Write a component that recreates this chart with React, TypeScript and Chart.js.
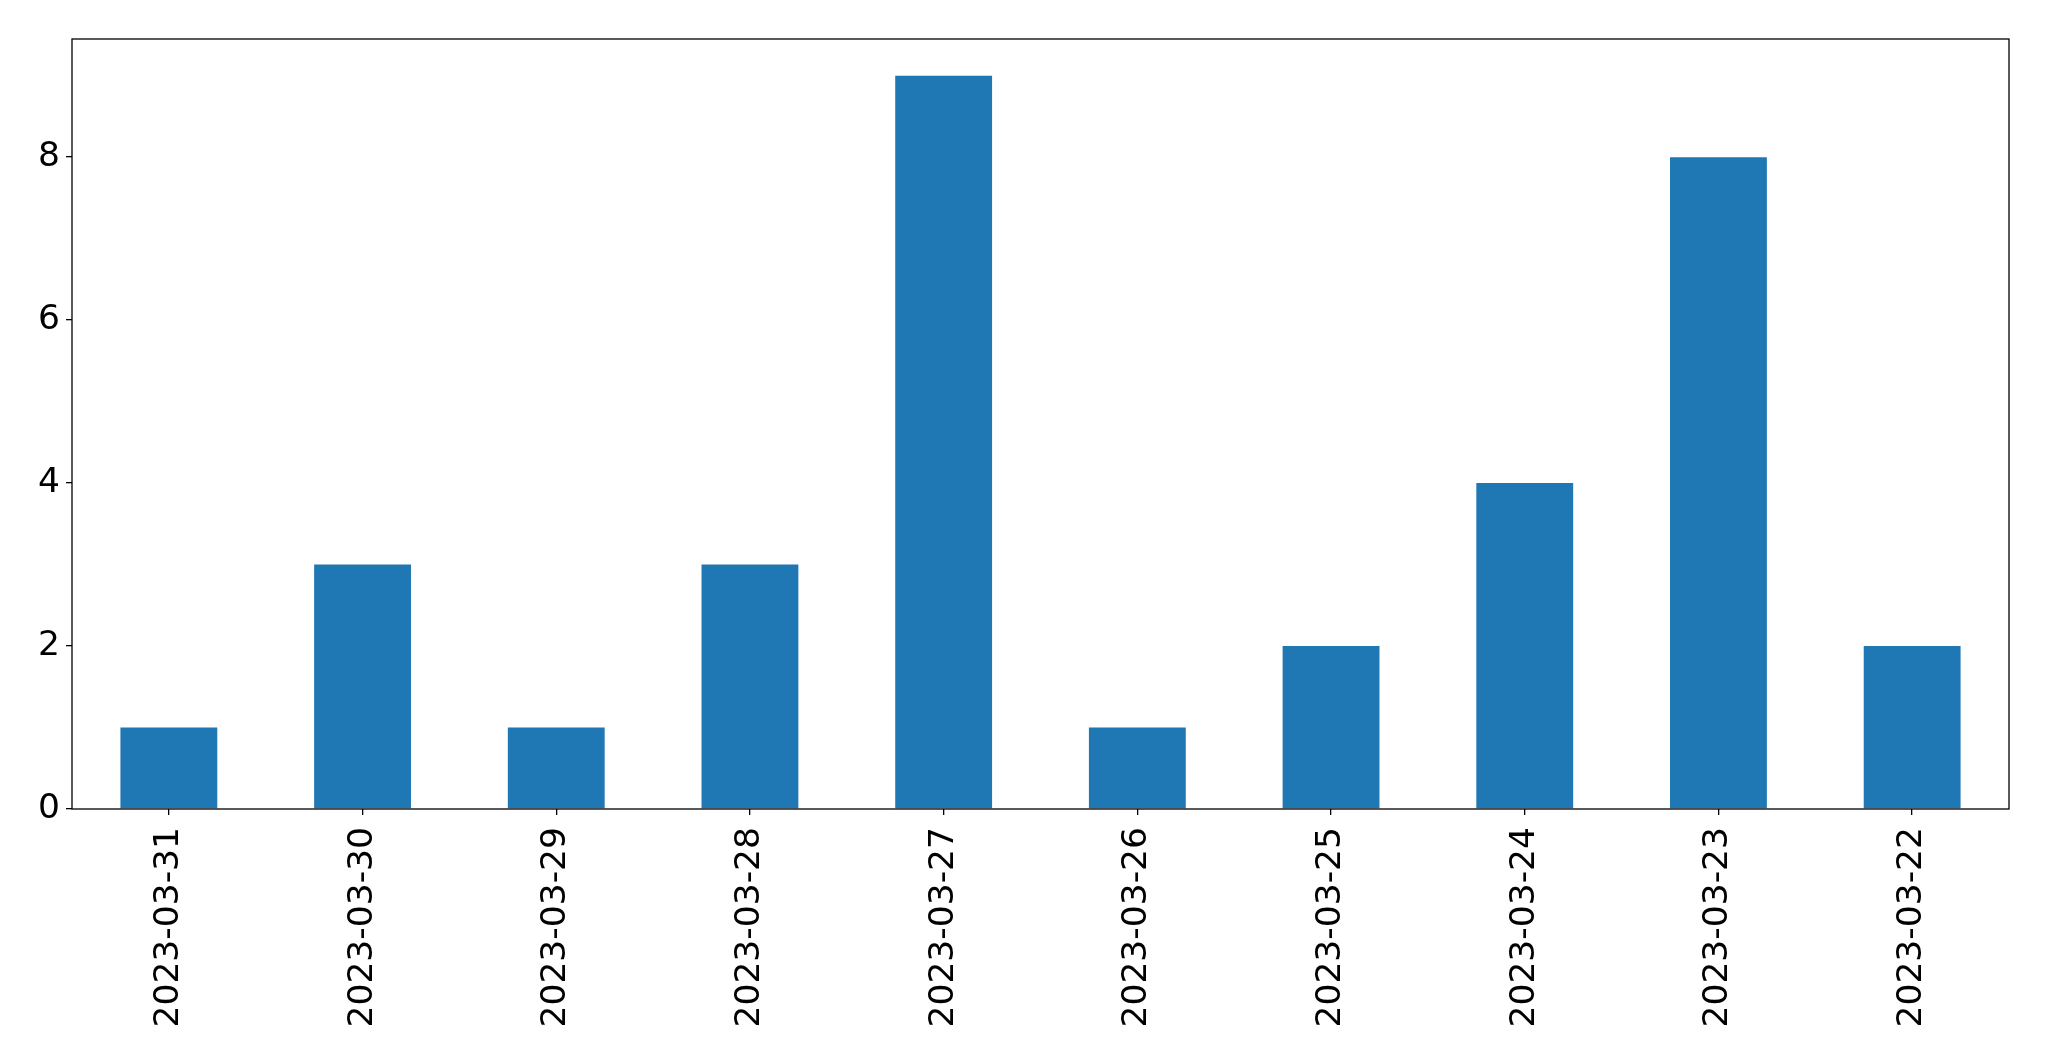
import React, { useEffect, useRef } from "react";
import { Chart, registerables } from "chart.js";

Chart.register(...registerables);

const categories = [
  "2023-03-31",
  "2023-03-30",
  "2023-03-29",
  "2023-03-28",
  "2023-03-27",
  "2023-03-26",
  "2023-03-25",
  "2023-03-24",
  "2023-03-23",
  "2023-03-22",
];
const counts = [1, 3, 1, 3, 9, 1, 2, 4, 8, 2];
const yTicks = [0, 2, 4, 6, 8];

const W = 2049;
const H = 1061;
const FONT = "'DejaVu Sans', sans-serif";

const framePlugin = {
  id: "frame",
  afterDraw(chart: any) {
    const { ctx, chartArea } = chart;
    ctx.save();
    ctx.strokeStyle = "#000";
    ctx.lineWidth = 1.3;
    ctx.strokeRect(chartArea.left, chartArea.top, chartArea.right - chartArea.left, chartArea.bottom - chartArea.top);
    ctx.restore();
  },
};

export default function App() {
  const ref = useRef<HTMLCanvasElement | null>(null);
  useEffect(() => {
    document.body.style.margin = "0";
    const canvas = ref.current!;
    const chart = new Chart(canvas, {
      type: "bar",
      data: {
        labels: categories,
        datasets: [
          {
            data: counts,
            backgroundColor: "#1f77b4",
            borderWidth: 0,
            categoryPercentage: 1,
            barPercentage: 0.5,
          },
        ],
      },
      options: {
        responsive: false,
        animation: false,
        devicePixelRatio: 1,
        layout: { padding: { top: 39, right: 40, left: 0, bottom: 0 } },
        plugins: { legend: { display: false }, tooltip: { enabled: false } },
        scales: {
          x: {
            offset: true,
            grid: { display: true, drawOnChartArea: false, drawTicks: true, tickLength: 6, color: "#000", offset: false, lineWidth: 1.3 },
            border: { display: false },
            ticks: {
              color: "#000",
              font: { family: FONT, size: 34.5 },
              minRotation: 90,
              maxRotation: 90,
              padding: 12,
              autoSkip: false,
            },
            afterFit(scale: any) {
              scale.height = H - 809;
            },
          },
          y: {
            min: 0,
            max: 9.45,
            grid: { display: true, drawOnChartArea: false, drawTicks: true, tickLength: 6, color: "#000", lineWidth: 1.3 },
            border: { display: false },
            ticks: {
              color: "#000",
              font: { family: FONT, size: 34.5 },
              padding: 6,
              stepSize: 2,
            },
            afterBuildTicks(scale: any) {
              scale.ticks = yTicks.map((v) => ({ value: v }));
            },
            afterFit(scale: any) {
              scale.width = 72;
            },
          },
        },
      },
      plugins: [framePlugin],
    } as any);
    return () => chart.destroy();
  }, []);
  return (
    <div style={{ position: "absolute", left: 0, top: 0, width: W, height: H, background: "#fff" }}>
      <canvas ref={ref} width={W} height={H} style={{ width: W, height: H, display: "block" }} />
    </div>
  );
}
